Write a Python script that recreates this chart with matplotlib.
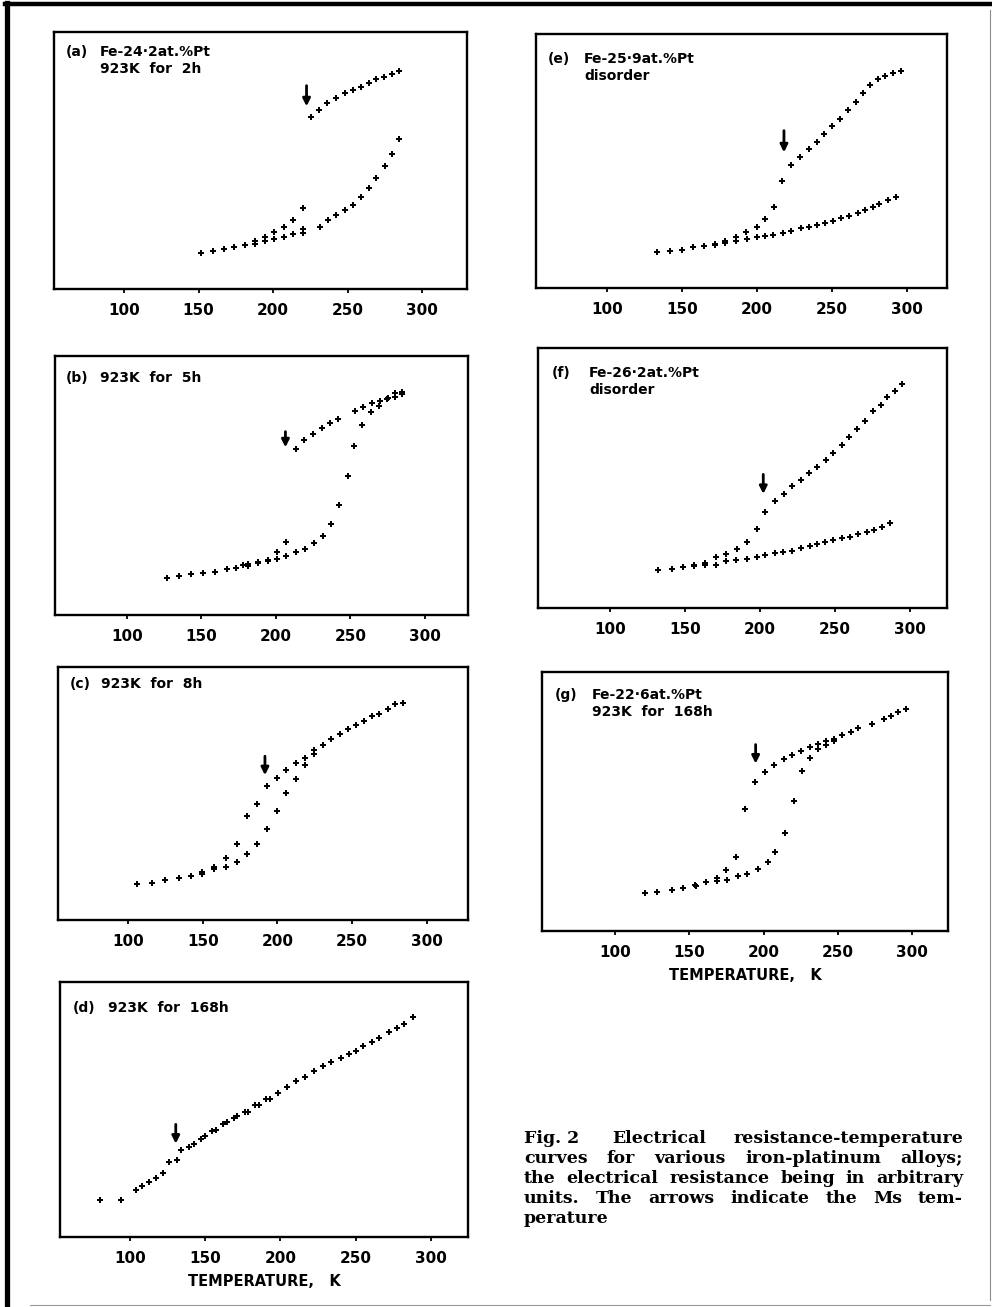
import matplotlib
matplotlib.use('Agg')
import matplotlib.pyplot as plt
from matplotlib.lines import Line2D

# resistance (arbitrary units) vs temperature (K)

# (a) Fe-24.2at.%Pt, 923K for 2h
a_upper_T = [225.4, 231.0, 236.5, 242.0, 248.6, 253.7, 258.9, 264.5, 269.4, 274.5, 279.7, 284.8]
a_upper_R = [51.6, 53.6, 55.8, 57.2, 58.9, 59.7, 60.7, 61.8, 63.0, 63.6, 64.4, 65.5]
a_lower_T = [151.4, 159.4, 166.8, 173.7, 180.9, 187.8, 187.8, 194.5, 194.5, 200.8, 200.8, 207.5, 207.5,
             213.7, 213.7, 219.8, 219.8, 219.8, 231.4, 237.0, 242.3, 248.6, 254.0, 258.9, 264.5, 269.4,
             275.2, 280.1, 284.8]
a_lower_R = [10.8, 11.3, 12.0, 12.5, 13.2, 13.5, 14.5, 14.5, 15.5, 15.1, 17.1, 15.6, 18.6,
             16.5, 20.8, 16.8, 18.1, 24.3, 18.6, 20.7, 22.1, 23.7, 25.3, 27.5, 30.3, 33.4,
             36.9, 40.5, 44.9]

# (b) 923K for 5h
b_upper_T = [213.3, 219.1, 224.9, 231.2, 236.3, 241.9, 252.8, 258.7, 264.5, 269.6, 275.0, 279.7, 284.8]
b_upper_R = [49.9, 52.5, 54.4, 56.1, 57.7, 58.9, 61.3, 62.4, 63.5, 64.2, 65.1, 65.5, 66.2]
b_lower_T = [126.8, 135.1, 142.9, 151.0, 159.0, 167.0, 173.3, 178.2, 181.3, 181.3, 187.8, 187.8,
             194.5, 194.5, 200.6, 200.6, 207.0, 207.0, 213.7, 219.3, 225.8, 231.6, 236.8, 242.3,
             248.4, 252.6, 258.0, 264.0, 269.2, 274.5, 279.7, 284.8]
b_lower_R = [11.2, 11.6, 12.3, 12.6, 13.0, 13.7, 14.0, 15.0, 14.7, 15.2, 15.9, 15.5,
             16.6, 16.2, 18.8, 16.8, 21.8, 17.8, 18.8, 19.9, 21.7, 23.7, 27.3, 33.1,
             41.6, 50.7, 57.1, 60.8, 62.8, 64.8, 66.7, 67.0]

# (c) 923K for 8h
c_upper_T = [283.9, 278.8, 273.9, 268.3, 263.1, 258.0, 252.6, 247.3, 241.7, 235.9, 230.3, 224.7,
             218.4, 212.4, 205.9, 199.9, 193.2, 186.5, 179.6, 172.8, 165.5, 157.7, 149.6, 141.8,
             133.7, 124.8, 116.1, 106.0]
c_upper_R = [65.3, 64.8, 63.4, 62.0, 61.2, 59.9, 58.7, 57.5, 55.9, 54.4, 52.5, 51.0,
             48.8, 47.3, 45.0, 42.7, 40.3, 34.8, 31.3, 22.9, 18.5, 15.9, 14.3, 13.2,
             12.5, 12.0, 11.1, 10.8]
c_lower_T = [224.7, 218.4, 212.4, 205.9, 199.9, 193.2, 186.5, 179.6, 172.8, 165.5, 157.7, 149.6]
c_lower_R = [50.0, 46.6, 42.5, 38.2, 32.8, 27.4, 22.8, 19.8, 17.4, 15.9, 15.3, 13.8]

# (d) 923K for 168h
d_T = [80.0, 94.0, 103.8, 107.8, 112.9, 117.3, 122.2, 125.7, 131.0, 133.7, 139.0, 142.6, 147.0,
       149.9, 154.8, 157.0, 162.1, 164.7, 169.4, 171.4, 176.3, 178.7, 183.1, 185.8, 190.2, 192.9,
       198.4, 204.7, 210.6, 216.6, 222.6, 228.2, 233.7, 240.1, 245.5, 250.3, 255.0, 261.2, 265.6,
       272.5, 277.8, 282.5, 288.5]
d_R = [11.0, 11.2, 14.0, 15.3, 16.4, 17.7, 19.3, 22.5, 23.0, 26.0, 27.0, 28.0, 29.3,
       30.2, 31.7, 32.2, 34.0, 34.5, 35.8, 36.2, 37.4, 37.4, 39.6, 39.6, 41.5, 41.5,
       43.2, 45.0, 46.8, 48.1, 49.9, 51.2, 52.5, 53.8, 55.0, 55.8, 57.2, 58.4, 59.7,
       61.4, 62.8, 63.8, 66.0]

# (e) Fe-25.9at.%Pt, disorder
e_upper_T = [295.8, 290.7, 285.3, 280.4, 275.3, 270.7, 265.8, 260.9, 255.3, 250.2, 244.7, 239.8,
             234.4, 228.7, 222.7, 216.9, 211.3, 205.6, 199.8, 192.4, 186.0, 178.9, 171.8]
e_upper_R = [65.2, 64.6, 63.7, 62.6, 61.0, 58.6, 55.9, 53.4, 50.7, 48.5, 46.2, 43.8,
             41.6, 39.3, 37.0, 32.1, 24.2, 20.6, 18.4, 16.9, 15.3, 14.0, 13.2]
e_lower_T = [292.4, 287.3, 281.6, 277.1, 272.2, 267.1, 261.6, 256.0, 250.4, 245.3, 239.8, 234.4,
             229.3, 222.7, 217.6, 210.9, 205.6, 199.8, 193.1, 186.0, 178.9, 171.8, 164.7, 157.1,
             149.8, 142.0, 133.6]
e_lower_R = [27.4, 26.4, 25.2, 24.3, 23.4, 22.4, 21.7, 21.0, 20.1, 19.6, 18.8, 18.3,
             17.9, 17.1, 16.5, 15.9, 15.6, 15.2, 14.8, 14.2, 13.6, 13.0, 12.7, 12.2,
             11.3, 11.1, 10.9]

# (f) Fe-26.2at.%Pt, disorder
f_upper_T = [294.4, 289.8, 284.9, 280.4, 275.1, 270.0, 264.9, 259.6, 254.4, 248.9, 244.2, 238.2,
             232.7, 227.6, 221.6, 216.0, 209.8, 203.6, 197.8, 191.3, 184.4, 177.6, 170.4, 163.3,
             156.0, 148.9, 141.3, 132.0]
f_upper_R = [67.5, 65.2, 63.5, 61.0, 59.3, 56.2, 53.8, 51.3, 49.0, 46.6, 44.6, 42.3,
             40.5, 38.5, 36.6, 34.3, 32.3, 28.8, 23.9, 20.0, 17.8, 16.3, 15.2, 13.5,
             12.8, 12.2, 11.6, 11.3]
f_lower_T = [286.7, 281.3, 276.2, 271.3, 265.3, 260.0, 254.7, 248.9, 243.3, 238.2, 233.3, 227.3,
             221.6, 215.6, 209.8, 203.6, 197.8, 191.1, 183.8, 177.6, 170.4, 163.3, 156.0]
f_lower_R = [25.5, 24.4, 23.6, 22.8, 22.2, 21.4, 21.2, 20.5, 19.8, 19.3, 18.5, 18.1,
             17.2, 16.7, 16.4, 15.8, 15.3, 14.8, 14.5, 14.0, 13.0, 12.8, 12.5]

# (g) Fe-22.6at.%Pt, 923K for 168h
g_upper_T = [295.7, 290.6, 285.7, 280.7, 272.6, 263.7, 258.7, 252.9, 247.5, 241.7, 236.3, 230.9,
             225.1, 219.3, 213.5, 206.7, 200.7, 194.4, 187.4, 181.2, 174.9, 168.6, 161.0, 153.8,
             145.7, 138.1, 128.0, 120.2]
g_upper_R = [66.6, 65.8, 64.6, 63.6, 62.1, 61.0, 59.8, 58.8, 57.8, 57.0, 56.2, 55.2,
             54.0, 52.8, 51.8, 50.0, 47.8, 44.8, 36.6, 22.2, 18.3, 15.8, 14.8, 13.8,
             13.0, 12.2, 11.6, 11.3]
g_lower_T = [247.5, 241.7, 236.3, 230.9, 226.0, 220.2, 214.3, 207.8, 202.7, 196.4, 189.0, 182.7,
             175.3, 168.6, 161.4, 154.3]
g_lower_R = [57.2, 56.0, 54.8, 52.0, 48.0, 39.0, 29.4, 23.6, 20.6, 18.6, 17.2, 16.4,
             15.3, 15.0, 14.6, 13.4]

# Ms arrows: temperature, tail, tip
ms_T = [222.5, 206.4, 191.6, 130.4, 218.0, 202.2, 194.6]
ms_tail = [61.0, 55.0, 49.2, 33.8, 47.2, 40.2, 56.0]
ms_tip = [54.8, 50.3, 43.5, 28.0, 40.7, 34.3, 50.3]

tag = ['(a)', '(b)', '(c)', '(d)', '(e)', '(f)', '(g)']
line1 = ['Fe-24\u00b72at.%Pt', '923K  for  5h', '923K  for  8h', '923K  for  168h',
         'Fe-25\u00b79at.%Pt', 'Fe-26\u00b72at.%Pt', 'Fe-22\u00b76at.%Pt']
line2 = ['923K  for  2h', '', '', '', 'disorder', 'disorder', '923K  for  168h']

W, H = 992, 1307
fig = plt.figure(figsize=(W / 100, H / 100), dpi=100)

# panel boxes in pixels: left, top, right, bottom
boxes = [(54, 32, 467, 289), (55, 356, 468, 615), (58, 667, 468, 920), (60, 982, 468, 1237),
         (536, 34, 947, 288), (538, 348, 947, 608), (542, 672, 948, 931)]
xlims = [(53.0, 330.2), (51.9, 328.8), (52.9, 327.7), (53.4, 324.8),
         (52.7, 326.7), (52.0, 324.7), (50.9, 324.0)]
ytops = [77.1, 77.7, 76.0, 76.5, 76.2, 78.2, 77.8]
lab_top = [45, 371, 677, 1001, 52, 366, 688]     # pixel top of first label line
lab_left = [66, 66, 70, 73, 548, 552, 555]
lab_indent = [100, 100, 101, 108, 584, 589, 592]  # where the text after the tag starts

series = [
    [(a_upper_T, a_upper_R), (a_lower_T, a_lower_R)],
    [(b_upper_T, b_upper_R), (b_lower_T, b_lower_R)],
    [(c_upper_T, c_upper_R), (c_lower_T, c_lower_R)],
    [(d_T, d_R)],
    [(e_upper_T, e_upper_R), (e_lower_T, e_lower_R)],
    [(f_upper_T, f_upper_R), (f_lower_T, f_lower_R)],
    [(g_upper_T, g_upper_R), (g_lower_T, g_lower_R)],
]

lab_font = dict(fontsize=10, fontweight='bold', family='DejaVu Sans')

for i in range(7):
    l, t, r, b = boxes[i]
    ax = fig.add_axes([l / W, 1 - b / H, (r - l) / W, (b - t) / H])
    for T, R in series[i]:
        ax.plot(T, R, ls='none', marker='P', ms=4.3, mew=0, color='black')
    ax.annotate('', xy=(ms_T[i], ms_tip[i]), xytext=(ms_T[i], ms_tail[i]),
                arrowprops=dict(arrowstyle='-|>', lw=2.0, color='black', mutation_scale=11,
                                shrinkA=0, shrinkB=0))
    ax.set_xlim(xlims[i])
    ax.set_ylim(0, ytops[i])
    ax.set_xticks([100, 150, 200, 250, 300])
    ax.set_yticks([])
    ax.tick_params(axis='x', direction='out', length=3, width=1.3, pad=7,
                   labelsize=11)
    for lab in ax.get_xticklabels():
        lab.set_fontweight('bold')
    for s in ax.spines.values():
        s.set_linewidth(1.7)
    # panel label: tag, then text aligned at the indent, second line under it
    fig.text(lab_left[i] / W, 1 - lab_top[i] / H, tag[i], ha='left', va='top', **lab_font)
    fig.text(lab_indent[i] / W, 1 - lab_top[i] / H, line1[i], ha='left', va='top', **lab_font)
    if line2[i]:
        fig.text(lab_indent[i] / W, 1 - (lab_top[i] + 17) / H, line2[i], ha='left', va='top',
                 **lab_font)
    if i in (3, 6):
        ax.set_xlabel('TEMPERATURE,   K', fontsize=10.5, fontweight='bold', labelpad=6)

# caption, justified
cap_lines = [['Fig. 2 ', 'Electrical', 'resistance-temperature'],
             ['curves', 'for', 'various', 'iron-platinum', 'alloys;'],
             ['the', 'electrical', 'resistance', 'being', 'in', 'arbitrary'],
             ['units.', 'The', 'arrows', 'indicate', 'the', 'Ms', 'tem-'],
             ['perature']]
cap_font = dict(fontsize=12.5, fontweight='bold', family='DejaVu Serif')
renderer = fig.canvas.get_renderer()
x0, x1 = 524, 963
y = 1143
for k, words in enumerate(cap_lines):
    widths = []
    for w in words:
        tt = fig.text(0, 0, w, **cap_font)
        widths.append(tt.get_window_extent(renderer).width)
        tt.remove()
    if k < len(cap_lines) - 1:
        gap = (x1 - x0 - sum(widths)) / (len(words) - 1)
    else:
        gap = 6
    x = x0
    for w, wd in zip(words, widths):
        fig.text(x / W, 1 - y / H, w, ha='left', va='baseline', **cap_font)
        x += wd + gap
    y += 20

# outer frame of the scanned page
fig.add_artist(Line2D([5 / W, 990 / W], [1 - 4 / H, 1 - 4 / H], lw=3.2, color='black'))
fig.add_artist(Line2D([7 / W, 7 / W], [1 - 3 / H, 0], lw=3.8, color='black'))
fig.add_artist(Line2D([990 / W, 990 / W], [1 - 10 / H, 1 - 1300 / H], lw=0.8, color='0.55'))
fig.add_artist(Line2D([30 / W, 990 / W], [1 - 1305 / H, 1 - 1305 / H], lw=0.8, color='0.6'))

fig.savefig('out.png', dpi=100)
